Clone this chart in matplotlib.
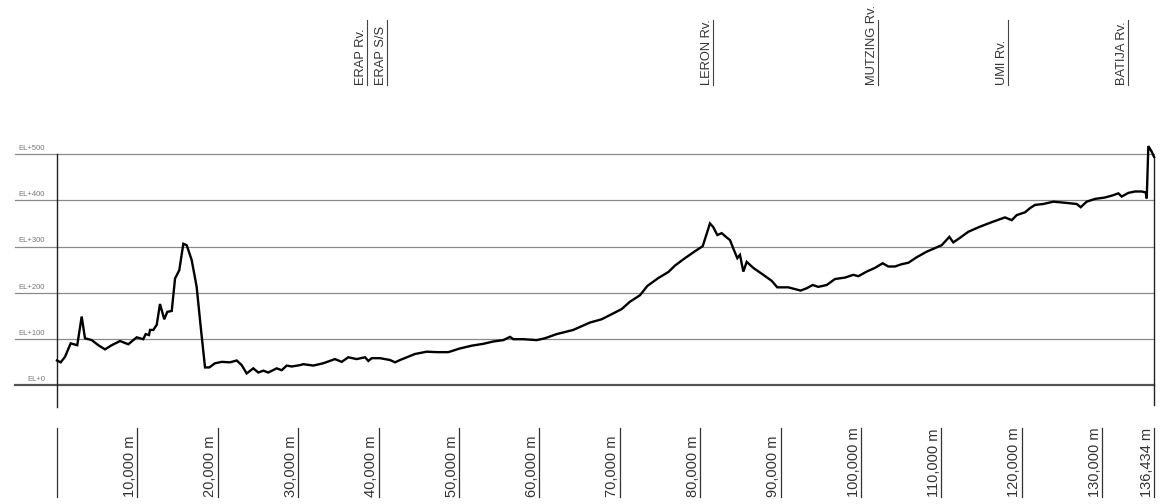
import matplotlib
matplotlib.use("Agg")
import matplotlib.pyplot as plt
from matplotlib import transforms

plt.rcParams['font.family'] = ['Liberation Sans', 'DejaVu Sans']

# perfil del terreno (distancia en m, elevacion en m)
dist_m = [0, 460, 1000, 1700, 2520, 3070, 3480, 4320, 5140, 5970, 6800, 7840, 8870,
          9910, 10730, 11030, 11440, 11570, 11980, 12400, 12810, 13340, 13720, 14270,
          14680, 15210, 15710, 16130, 16750, 17370, 17870, 18410, 18940, 19650, 20480,
          21520, 22350, 22970, 23590, 24410, 25040, 25660, 26280, 27320, 27950, 28570,
          29190, 30220, 30630, 31880, 33120, 34570, 35410, 36230, 37270, 38310, 38720,
          39140, 40170, 41420, 42040, 42660, 44520, 45980, 47220, 48670, 50120, 51580,
          53020, 54260, 55510, 56340, 56750, 57990, 59660, 60690, 62150, 64210, 66290,
          67740, 68990, 70230, 71260, 72510, 73420, 74780, 76030, 76860, 78100, 79350,
          80310, 81210, 81620, 82120, 82670, 83200, 83700, 84110, 84610, 84940, 85360,
          85780, 86600, 87840, 88890, 89580, 90950, 92490, 93240, 93990, 94680, 95730,
          96760, 98000, 99040, 99660, 100700, 101730, 102690, 103390, 104220, 105060,
          105880, 106920, 108160, 110030, 110980, 111470, 112310, 113340, 114790,
          116450, 117900, 118740, 119360, 120390, 121010, 121630, 122670, 123910,
          125150, 126820, 127320, 128060, 129100, 130340, 131370, 132000, 132420,
          133240, 134070, 134900, 135400, 135530, 135730, 136150, 136434]
elev_m = [54, 50, 62, 91, 87, 149, 102, 98, 87, 78, 87, 96, 89,
          104, 100, 111, 109, 120, 120, 131, 176, 143, 159, 161,
          231, 249, 306, 303, 271, 213, 127, 39, 39, 48, 51,
          50, 54, 44, 26, 37, 28, 32, 28, 37, 33, 43,
          41, 44, 46, 43, 48, 57, 51, 61, 57, 61, 53,
          59, 59, 55, 50, 55, 68, 73, 72, 72, 80, 86,
          90, 95, 98, 105, 100, 100, 98, 102, 111, 120, 136,
          143, 154, 165, 181, 195, 215, 232, 245, 259, 275, 290,
          301, 350, 342, 325, 329, 321, 314, 296, 275, 282, 246,
          267, 254, 239, 226, 212, 212, 205, 210, 217, 213, 217,
          230, 233, 239, 236, 246, 254, 264, 257, 257, 262,
          265, 277, 289, 303, 321, 309, 319, 332, 343,
          354, 363, 357, 368, 374, 383, 390, 392, 397,
          395, 392, 385, 397, 403, 406, 411, 415, 408,
          416, 419, 419, 417, 404, 517, 505, 494]

grid_levels = [0, 100, 200, 300, 400, 500]
grid_labels = ['EL+0', 'EL+100', 'EL+200', 'EL+300', 'EL+400', 'EL+500']

tick_dist = [0, 10000, 20000, 30000, 40000, 50000, 60000, 70000, 80000, 90000,
             100000, 110000, 120000, 130000, 136434]

river_names = ['ERAP Rv.', 'ERAP S/S', 'LERON Rv.', 'MUTZING Rv.', 'UMI Rv.', 'BATIJA Rv.']
river_dist = [38560, 41040, 81590, 102110, 118280, 133200]

total = tick_dist[-1]

fig = plt.figure(figsize=(11.63, 5.04), dpi=100)
ax = fig.add_axes([57 / 1163, 0.1984, 1097 / 1163, 0.5512])
ax.set_xlim(0, total)
ax.set_ylim(-40, 560)
ax.axis('off')

# lineas de elevacion
for lvl, lab in zip(grid_levels, grid_labels):
    if lvl == 0:
        ax.plot([-5200, total], [lvl, lvl], color='#555555', lw=1.6, clip_on=False)
    else:
        ax.plot([-5200, total], [lvl, lvl], color='#8a8a8a', lw=0.9, clip_on=False)
    ax.text(-1500, lvl + 5, lab, fontsize=5.5, color='#777777', ha='right', va='bottom',
            clip_on=False)

# bordes verticales
ax.plot([0, 0], [-46, 500], color='#222222', lw=1.0, clip_on=False)
ax.plot([total, total], [-42, elev_m[-1]], color='#222222', lw=1.0, clip_on=False)

# perfil
ax.plot(dist_m, elev_m, color='black', lw=1.7, clip_on=False, solid_joinstyle='miter')

trans = transforms.blended_transform_factory(ax.transData, fig.transFigure)
trans_txt = transforms.offset_copy(trans, fig=fig, x=-2.5, y=0, units='points')

# distancias abajo
for d in tick_dist:
    ax.plot([d, d], [0.014, 0.151], transform=trans, color='#333333', lw=0.9, clip_on=False)
    if d == 0:
        continue
    ax.text(d, 0.014, f"{d:,} m", transform=trans_txt, rotation=90, rotation_mode='anchor',
            ha='left', va='baseline', fontsize=10.5, color='#333333', clip_on=False)

# rios arriba
for name, d in zip(river_names, river_dist):
    ax.plot([d, d], [0.831, 0.960], transform=trans, color='#444444', lw=0.8, clip_on=False)
    ax.text(d, 0.831, name, transform=trans_txt, rotation=90, rotation_mode='anchor',
            ha='left', va='baseline', fontsize=9.3, color='#333333', clip_on=False)

fig.savefig('out.png', dpi=100)
